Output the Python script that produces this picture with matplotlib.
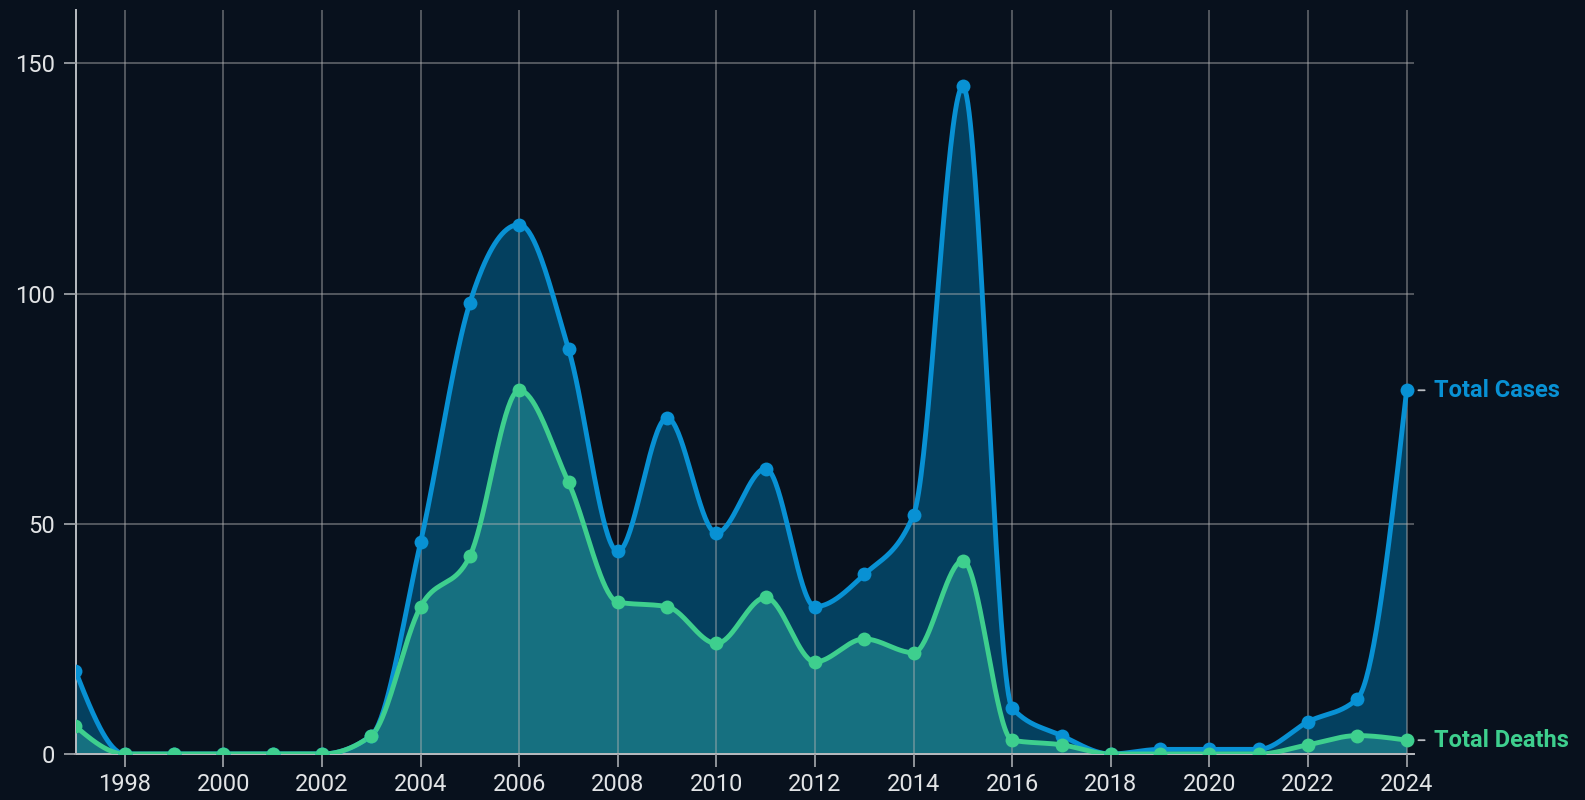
"""H5N1 human cases / deaths per year, smooth area chart on a dark background."""
import numpy as np
import matplotlib; matplotlib.use("Agg")
import matplotlib.pyplot as plt

years  = list(range(1997, 2025))
cases  = [18, 0, 0, 0, 0, 0, 4, 46, 98, 115, 88, 44, 73, 48, 62, 32, 39, 52, 145,
          10, 4, 0, 1, 1, 1, 7, 12, 79]
deaths = [6, 0, 0, 0, 0, 0, 4, 32, 43, 79, 59, 33, 32, 24, 34, 20, 25, 22, 42,
          3, 2, 0, 0, 0, 0, 2, 4, 3]
xticks = list(range(1998, 2025, 2))
yticks = [0, 50, 100, 150]

BG      = "#08111d"
C_CASES = "#0891d4"
F_CASES = "#04405f"
C_DEATH = "#3ecf8e"
F_DEATH = "#167080"


def monotone_x(x, y, n=40):
    """d3.curveMonotoneX (Steffen) sampled as cubic Hermite segments."""
    x = np.asarray(x, float); y = np.asarray(y, float)
    h = np.diff(x); s = np.diff(y) / h
    m = np.zeros_like(y)
    for i in range(1, len(x) - 1):
        p = (s[i-1] * h[i] + s[i] * h[i-1]) / (h[i-1] + h[i])
        m[i] = (np.sign(s[i-1]) + np.sign(s[i])) * min(abs(s[i-1]), abs(s[i]), 0.5 * abs(p))
    m[0] = (3 * s[0] - m[1]) / 2
    m[-1] = (3 * s[-1] - m[-2]) / 2
    xs, ys = [], []
    for i in range(len(x) - 1):
        t = np.linspace(0, 1, n, endpoint=(i == len(x) - 2))
        h00 = 2*t**3 - 3*t**2 + 1; h10 = t**3 - 2*t**2 + t
        h01 = -2*t**3 + 3*t**2;    h11 = t**3 - t**2
        xs.append(x[i] + t * h[i])
        ys.append(h00*y[i] + h10*h[i]*m[i] + h01*y[i+1] + h11*h[i]*m[i+1])
    return np.concatenate(xs), np.concatenate(ys)


plt.rcParams["font.family"] = ["Roboto", "DejaVu Sans"]
fig = plt.figure(figsize=(15.85, 8.0), dpi=100, facecolor=BG)
ax = fig.add_axes([75.5/1585, 46/800, (1414-75.5)/1585, (790.5-46)/800], facecolor=BG)

xc, yc = monotone_x(years, cases)
xd, yd = monotone_x(years, deaths)
ax.fill_between(xc, yc, 0, color=F_CASES, lw=0, zorder=1)
ax.fill_between(xd, yd, 0, color=F_DEATH, lw=0, zorder=1.2)
ax.plot(xc, yc, color=C_CASES, lw=3.5, zorder=3, solid_capstyle="round")
ax.plot(xd, yd, color=C_DEATH, lw=3.5, zorder=3.1, solid_capstyle="round")
ax.plot(years, cases, "o", color=C_CASES, ms=10, mew=0, zorder=3.2)
ax.plot(years, deaths, "o", color=C_DEATH, ms=10, mew=0, zorder=3.3)

ax.set_xlim(1997, 2024.15)
ax.set_ylim(0, 161.7)
ax.set_xticks(xticks)
ax.set_yticks(yticks)
ax.set_axisbelow(False)
ax.grid(True, color="#b4b4b4", alpha=0.5, lw=1.2)
for side in ("top", "right"):
    ax.spines[side].set_visible(False)
for side in ("left", "bottom"):
    ax.spines[side].set_color("#b9bdc2")
    ax.spines[side].set_linewidth(1.4)
ax.tick_params(colors="#9a9ea4", labelcolor="#e2e4e6", labelsize=17,
               length=9, width=1.3, pad=5)
ax.tick_params(axis="y", pad=6)

for yv, lab, col in ((cases[-1], "Total Cases", C_CASES), (deaths[-1], "Total Deaths", C_DEATH)):
    ax.annotate("", xy=(years[-1], yv), xytext=(13, 0), textcoords="offset points",
                arrowprops=dict(arrowstyle="-", color="#b9bdc2", lw=1.3,
                                shrinkA=0, shrinkB=8.5), annotation_clip=False)
    ax.annotate(lab, xy=(years[-1], yv), xytext=(20, 0), textcoords="offset points",
                color=col, fontsize=17, fontweight="bold", va="center", ha="left",
                annotation_clip=False)

fig.savefig("out.png", dpi=100, facecolor=BG)
